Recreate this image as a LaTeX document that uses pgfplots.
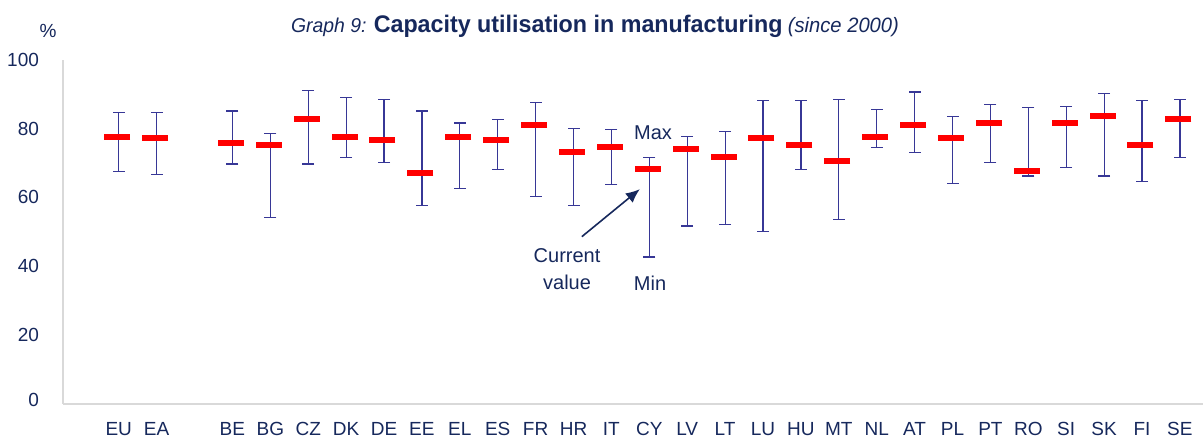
\documentclass[border=0pt]{standalone}
\usepackage{fontspec}
\setmainfont{Liberation Sans}
\usepackage{pgfplots}
\usepackage{pgfplotstable}
\pgfplotsset{compat=1.18}
\usetikzlibrary{arrows.meta}
\definecolor{navy}{RGB}{22,40,92}
\definecolor{whisk}{RGB}{55,55,150}
\definecolor{axgray}{RGB}{217,217,217}
\pgfplotstableread{
i cur max min
0 77.5 84.6 67.6
1 77.2 84.6 66.6
3 75.8 85.1 69.7
4 75.2 78.6 54.2
5 82.7 91.0 69.7
6 77.5 89.0 71.6
7 76.6 88.5 70.1
8 67.0 85.1 57.6
9 77.5 81.6 62.7
10 76.6 82.6 68.1
11 81.0 87.6 60.2
12 73.1 80.1 57.6
13 74.6 79.7 63.7
14 68.2 71.6 42.7
15 74.0 77.6 51.7
16 71.7 79.2 52.2
17 77.2 88.1 50.2
18 75.2 88.1 68.1
19 70.5 88.5 53.7
20 77.5 85.6 74.6
21 81.0 90.6 73.1
22 77.2 83.6 64.1
23 81.6 87.1 70.1
24 67.6 86.0 66.2
25 81.6 86.5 68.6
26 83.6 90.1 66.2
27 75.2 88.1 64.6
28 82.7 88.5 71.6
}\data
\begin{document}
\begin{tikzpicture}
\useasboundingbox (0,0) rectangle (601.5pt,218.5pt);
\begin{axis}[
  at={(31.35pt,16.5pt)}, anchor=south west,
  scale only axis, width=570.15pt, height=172.15pt,
  xmin=-1.478, xmax=28.61, ymin=0, ymax=100,
  axis x line*=bottom, axis y line*=left,
  axis line style={draw=axgray, line width=0.8pt, -},
  major tick length=0pt,
  ytick={0,20,40,60,80,100},
  yticklabels={\raisebox{4.5pt}{0},20,40,60,80,100},
  xtick={0,1,3,4,5,6,7,8,9,10,11,12,13,14,15,16,17,18,19,20,21,22,23,24,25,26,27,28},
  xticklabels={EU,EA,BE,BG,CZ,DK,DE,EE,EL,ES,FR,HR,IT,CY,LV,LT,LU,HU,MT,NL,AT,PL,PT,RO,SI,SK,FI,SE},
  /pgf/number format/assume math mode=true,
  tick label style={font=\fontsize{9.5}{11}\selectfont, text=navy},
  yticklabel style={anchor=east, inner sep=0pt, xshift=-11.7pt},
  xticklabel style={anchor=north, inner sep=0pt, yshift=-8.8pt},
  clip=false,
]
% upper whisker: cap at max, line down to the red bar
\addplot[only marks, forget plot, mark=-, mark size=3pt, mark options={draw=whisk, line width=0.6pt},
  error bars/.cd, y dir=minus, y explicit, error mark=none,
  error bar style={draw=whisk, line width=0.6pt, solid}]
  table[x=i, y=max, y error minus expr=\thisrow{max}-\thisrow{cur}-0.8] {\data};
% lower whisker: cap at min, line up to the red bar
\addplot[only marks, forget plot, mark=-, mark size=3pt, mark options={draw=whisk, line width=0.6pt},
  error bars/.cd, y dir=plus, y explicit, error mark=none,
  error bar style={draw=whisk, line width=0.6pt, solid}]
  table[x=i, y=min, y error plus expr=\thisrow{cur}-\thisrow{min}-0.8] {\data};
% current value
\addplot[only marks, mark=-, mark size=6.5pt, mark options={draw=red, line width=3pt, xshift=-0.8pt}]
  table[x=i, y=cur] {\data};
\node[font=\fontsize{10}{12}\selectfont, text=navy] at (axis cs:14.1,78.8) {Max};
\node[font=\fontsize{10}{12}\selectfont, text=navy] at (axis cs:14.02,35.1) {Min};
\node[font=\fontsize{10}{13.5}\selectfont, text=navy, align=center] at (axis cs:11.83,39.1) {Current\\value};
\draw[navy, line width=0.8pt, -{Latex[length=7pt,width=6pt]}] (axis cs:12.22,48.6) -- (axis cs:13.75,62.4);
\end{axis}
\node[text=navy, font=\fontsize{9.5}{11}\selectfont] at (24pt,203pt) {\%};
\node[text=navy, inner sep=0pt, anchor=base] at (297.5pt,202pt) {\scalebox{0.97}[1]{{\fontsize{10}{12}\selectfont\itshape Graph 9: }{\fontsize{12}{14}\selectfont\bfseries Capacity utilisation in manufacturing} {\fontsize{10.4}{12}\selectfont\itshape (since 2000)}}};
\end{tikzpicture}
\end{document}
